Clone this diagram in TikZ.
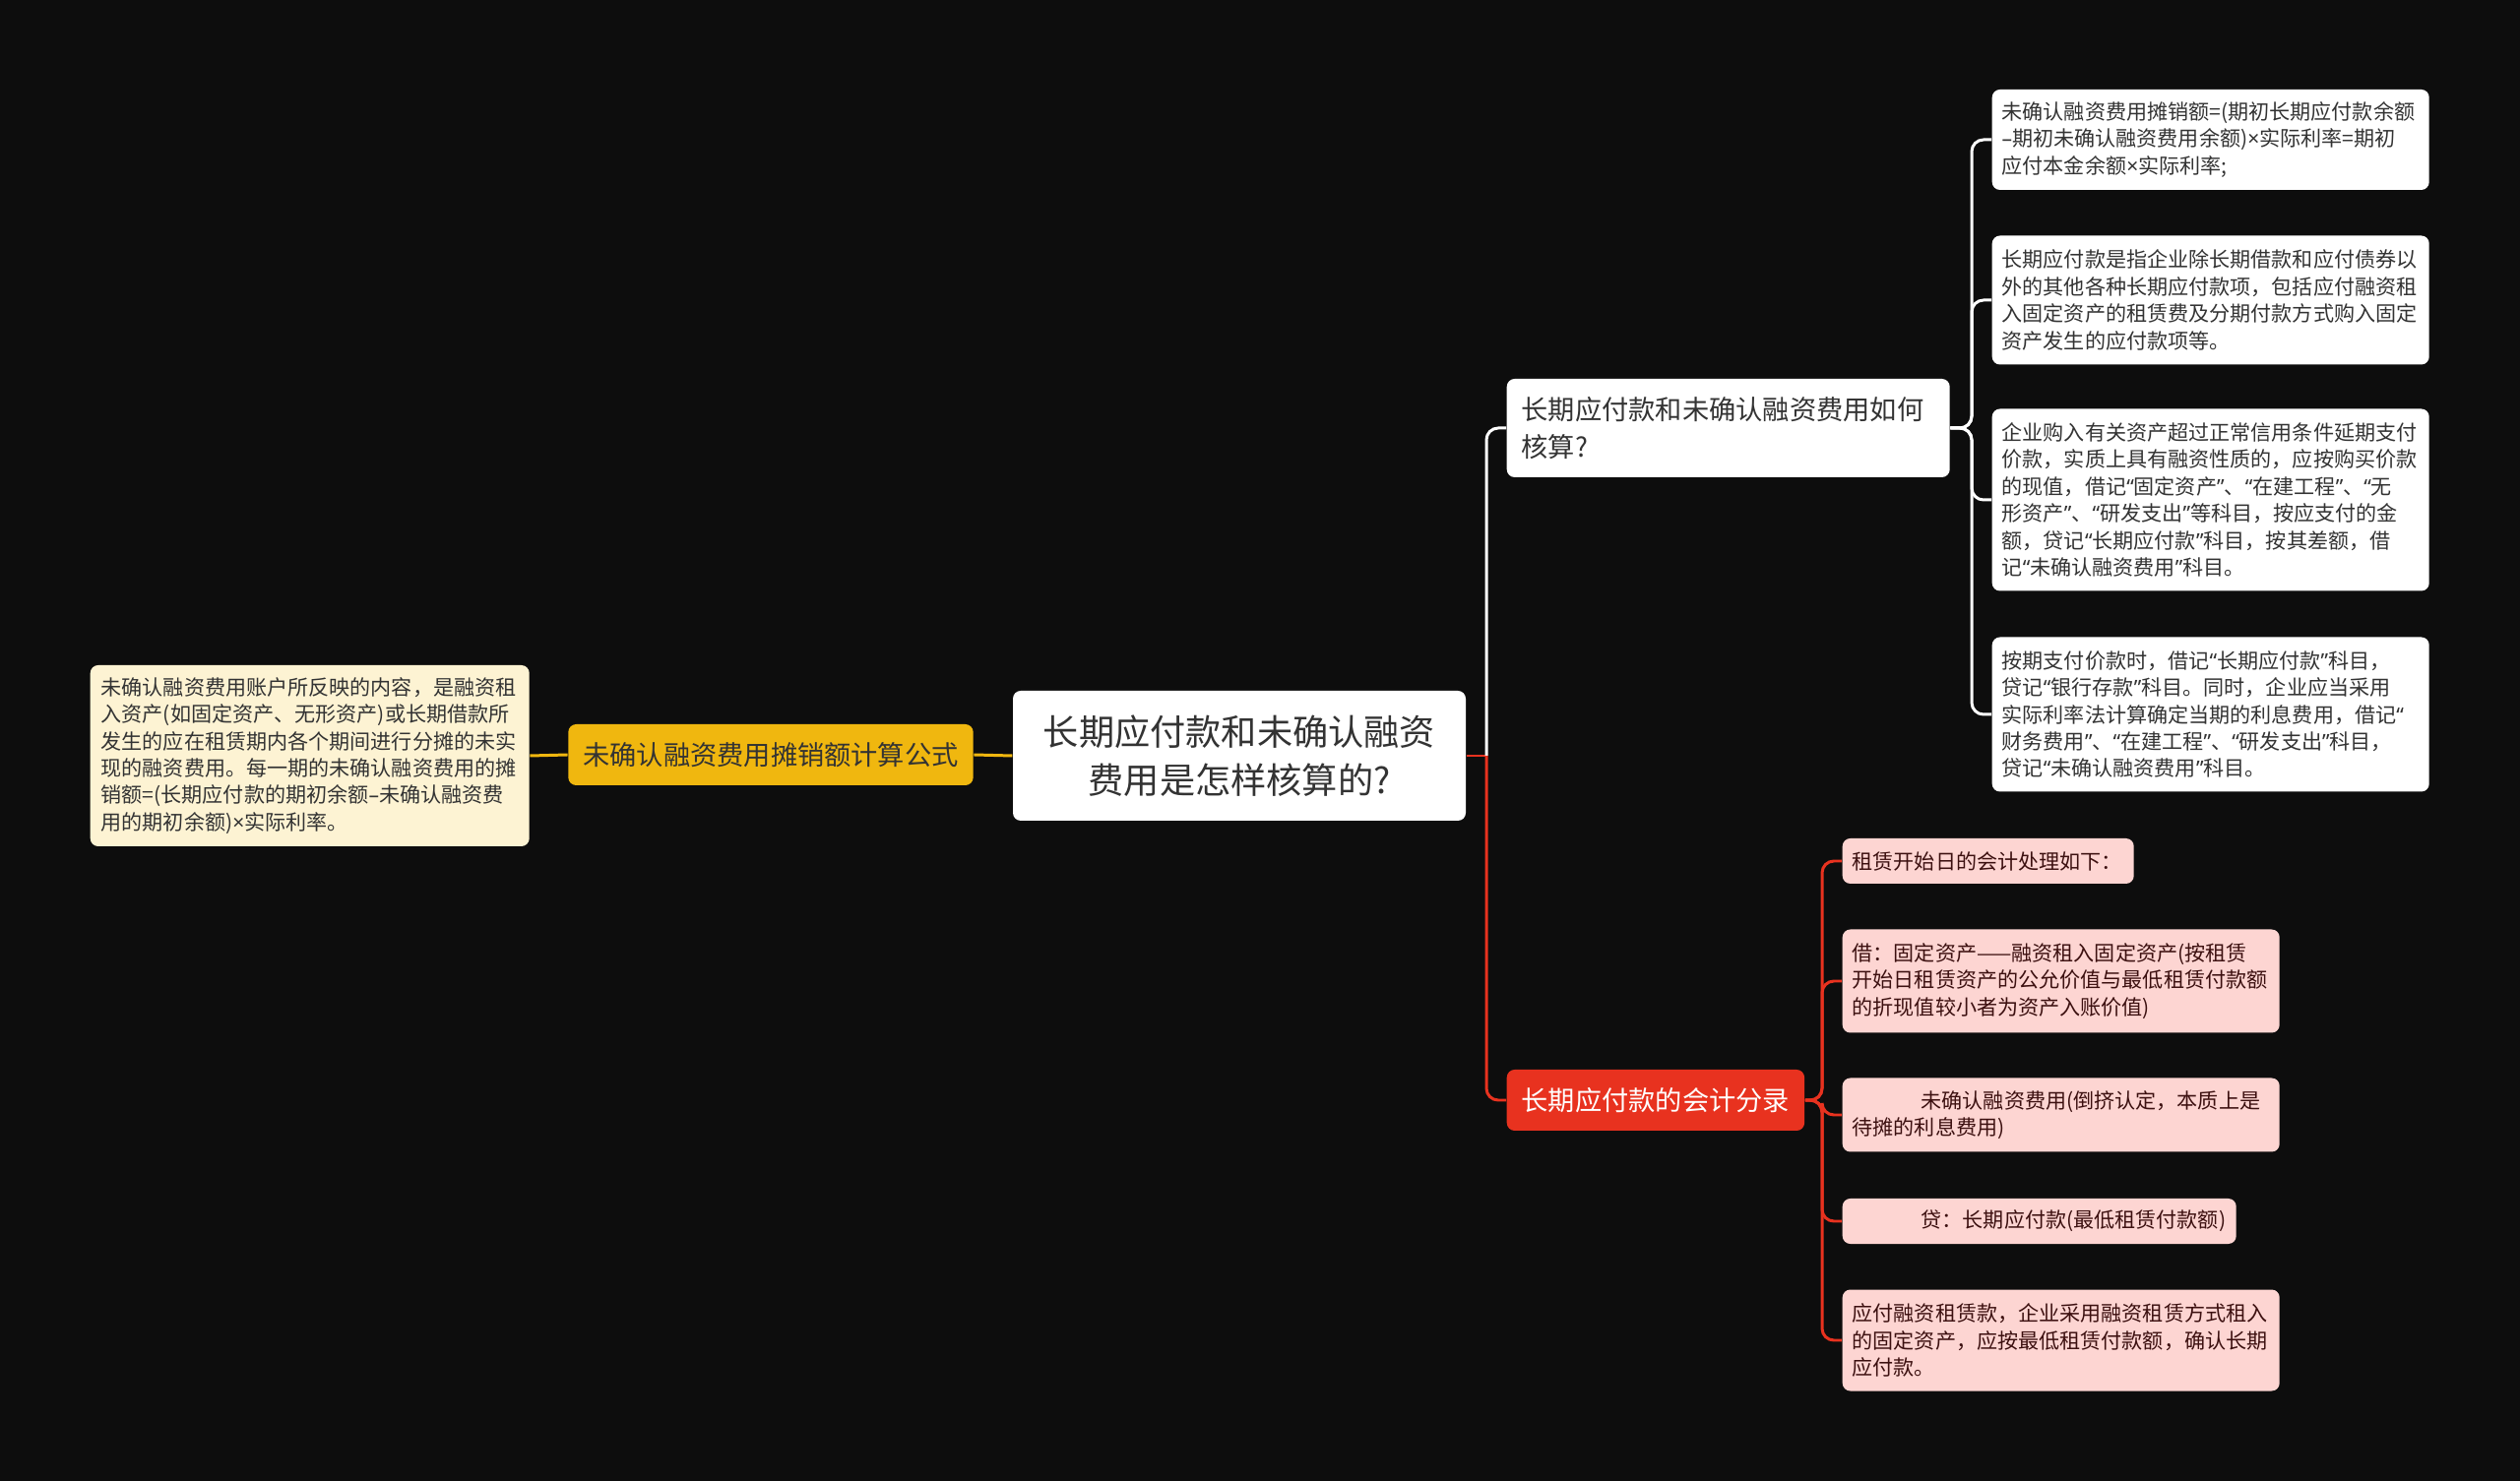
\documentclass[tikz,border=0pt]{standalone}
\usepackage{fontspec}
\newfontfamily\cjk{Noto Sans CJK SC}
\newfontfamily\latfont{Noto Sans}
\newcommand\oq{{\latfont “}}
\newcommand\cq{{\latfont ”}}
\newcommand\ti{{\latfont ×}}
\newcommand\nd{{\latfont –}}
\definecolor{bgcol}{HTML}{0D0D0D}
\definecolor{goldcol}{HTML}{F0B70F}
\definecolor{creamcol}{HTML}{FDF3D3}
\definecolor{redcol}{HTML}{E8321F}
\definecolor{pinkcol}{HTML}{FDD5D2}
\definecolor{inkcol}{HTML}{333333}
\definecolor{redink}{HTML}{3C1010}
\begin{document}
\begin{tikzpicture}[
		box/.style={anchor=west, rounded corners=0.08cm, inner xsep=0.1cm, inner ysep=0pt, align=left},
		rootbox/.style={box, anchor=center, fill=white, text=inkcol, align=center, font=\cjk\fontsize{10.3}{13.9}\selectfont},
		topicbox/.style={box, font=\cjk\fontsize{7.75}{10.7}\selectfont, inner xsep=0.15cm},
		leafbox/.style={box, font=\cjk\fontsize{6}{7.8}\selectfont},
		wleaf/.style={leafbox, fill=white, text=inkcol, text width=4.24cm},
		pleaf/.style={leafbox, fill=pinkcol, text=redink},
		wline/.style={draw=white, line width=0.85pt, rounded corners=0.12cm},
		rline/.style={draw=redcol, line width=0.85pt, rounded corners=0.12cm},
		yline/.style={draw=goldcol, line width=0.85pt}]
		\fill[bgcol] (0,0) rectangle (25.6,-15.05);
		\useasboundingbox (0,0) rectangle (25.6,-15.05);

		\node[rootbox, minimum width=4.6cm, minimum height=1.32cm] (root) at (12.59,-7.68) {长期应付款和未确认融资\\费用是怎样核算的?};

		\node[topicbox, anchor=center, fill=goldcol, text=inkcol, minimum width=4.1cm, minimum height=0.62cm] (calc) at (7.83,-7.67) {未确认融资费用摊销额计算公式};
		\node[leafbox, fill=creamcol, text=inkcol, text width=4.24cm, inner xsep=0.11cm, minimum height=1.84cm] (note) at (0.91,-7.68) {未确认融资费用账户所反映的内容，是融资租\\入资产(如固定资产、无形资产)或长期借款所\\发生的应在租赁期内各个期间进行分摊的未实\\现的融资费用。每一期的未确认融资费用的摊\\销额=(长期应付款的期初余额\nd 未确认融资费\\用的期初余额)\ti 实际利率。};

		\node[topicbox, fill=white, text=inkcol, text width=4.2cm, minimum height=1.0cm] (acct) at (15.30,-4.35) {长期应付款和未确认融资费用如何\\核算?};
		\node[topicbox, fill=redcol, text=white, minimum width=3.0cm, minimum height=0.62cm, align=center] (entry) at (15.30,-11.18) {长期应付款的会计分录};

		\node[wleaf, minimum height=1.02cm] (w1) at (20.23,-1.42) {未确认融资费用摊销额=(期初长期应付款余额\\\nd 期初未确认融资费用余额)\ti 实际利率=期初\\应付本金余额\ti 实际利率;};
		\node[wleaf, minimum height=1.31cm] (w2) at (20.23,-3.05) {长期应付款是指企业除长期借款和应付债券以\\外的其他各种长期应付款项，包括应付融资租\\入固定资产的租赁费及分期付款方式购入固定\\资产发生的应付款项等。};
		\node[wleaf, minimum height=1.85cm] (w3) at (20.23,-5.08) {企业购入有关资产超过正常信用条件延期支付\\价款，实质上具有融资性质的，应按购买价款\\的现值，借记\oq 固定资产\cq 、\oq 在建工程\cq 、\oq 无\\形资产\cq 、\oq 研发支出\cq 等科目，按应支付的金\\额，贷记\oq 长期应付款\cq 科目，按其差额，借\\记\oq 未确认融资费用\cq 科目。};
		\node[wleaf, minimum height=1.57cm] (w4) at (20.23,-7.26) {按期支付价款时，借记\oq 长期应付款\cq 科目，\\贷记\oq 银行存款\cq 科目。同时，企业应当采用\\实际利率法计算确定当期的利息费用，借记\oq\\财务费用\cq 、\oq 在建工程\cq 、\oq 研发支出\cq 科目，\\贷记\oq 未确认融资费用\cq 科目。};

		\node[pleaf, text width=2.76cm, minimum height=0.46cm] (p1) at (18.71,-8.75) {租赁开始日的会计处理如下：};
		\node[pleaf, text width=4.24cm, minimum height=1.05cm] (p2) at (18.71,-9.97) {借：固定资产——融资租入固定资产(按租赁\\开始日租赁资产的公允价值与最低租赁付款额\\的折现值较小者为资产入账价值)};
		\node[pleaf, text width=4.24cm, minimum height=0.75cm] (p3) at (18.71,-11.33) {\hspace*{0.7cm}未确认融资费用(倒挤认定，本质上是\\待摊的利息费用)};
		\node[pleaf, text width=3.8cm, minimum height=0.46cm] (p4) at (18.71,-12.41) {\hspace*{0.7cm}贷：长期应付款(最低租赁付款额)};
		\node[pleaf, text width=4.24cm, minimum height=1.03cm] (p5) at (18.71,-13.62) {应付融资租赁款，企业采用融资租赁方式租入\\的固定资产，应按最低租赁付款额，确认长期\\应付款。};

		\coordinate (rj) at (15.10,-7.68);
		\coordinate (aj) at (20.03,-4.35);
		\coordinate (ej) at (18.51,-11.18);

		\draw[yline] (note.east) -- (calc.west);
		\draw[yline] (calc.east) -- (root.west);
		\draw[rline] (root.east) -- (rj);
		\draw[wline] (rj) |- (acct.west);
		\draw[rline] (rj) |- (entry.west);

		\foreach \leaf in {w1,w2,w3,w4}
			\draw[wline] (acct.east) -- (aj) |- (\leaf.west);
		\foreach \leaf in {p1,p2,p3,p4,p5}
			\draw[rline] (entry.east) -- (ej) |- (\leaf.west);
	\end{tikzpicture}
\end{document}
